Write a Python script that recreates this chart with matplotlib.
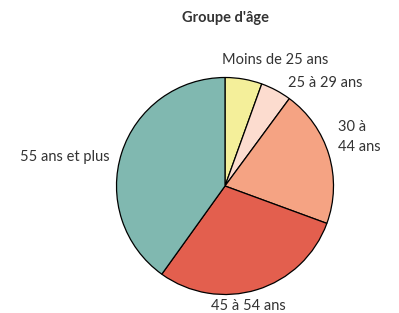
import matplotlib
matplotlib.use('Agg')
import matplotlib.pyplot as plt

# Données : répartition par groupe d'âge (%)
groupes = ['Moins de 25 ans', '25 à 29 ans', '30 à\n44 ans', '45 à 54 ans', '55 ans et plus']
parts = [5.5, 4.6, 20.5, 29.3, 40.1]
couleurs = ['#f4ef9a', '#fcdccf', '#f5a383', '#e35f4e', '#80b8b0']

# Position des étiquettes (unités du rayon) et alignement
pos_etiquettes = [(0.46, 1.16, 'center'), (0.58, 0.95, 'left'), (1.04, 0.45, 'left'),
                  (0.22, -1.11, 'center'), (-1.06, 0.27, 'right')]

plt.rcParams['font.family'] = ['Lato', 'DejaVu Sans']

W, H, R = 399, 313, 108.5
cx, cy = 225, 186
fig = plt.figure(figsize=(W / 100, H / 100), dpi=100)
ax = fig.add_axes([(cx - R) / W, (H - cy - R) / H, 2 * R / W, 2 * R / H])

ax.pie(parts, colors=couleurs, startangle=90, counterclock=False,
       wedgeprops={'edgecolor': 'black', 'linewidth': 0.9})
ax.set_xlim(-1, 1)
ax.set_ylim(-1, 1)

for texte, (x, y, ha) in zip(groupes, pos_etiquettes):
    ax.text(x, y, texte, ha=ha, va='center', fontsize=10.5, color='#333333',
            linespacing=1.5)

fig.text(225.5 / W, 1 - 18 / H, "Groupe d'âge", ha='center', va='center',
         fontsize=10.5, fontweight='bold', color='#333333')

fig.savefig('out.png', dpi=100)
